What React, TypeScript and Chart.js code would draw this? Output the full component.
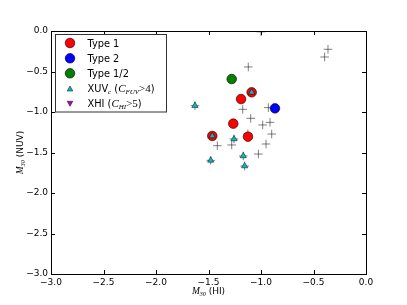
import React, { useEffect, useRef } from "react";
import { Chart, registerables } from "chart.js";

Chart.register(...registerables);

// ---- data (M30(HI), M30(NUV)) ----
const allGalaxiesX = [-0.362, -0.394, -1.121, -1.174, -0.93, -1.098, -0.914, -0.984, -0.898, -0.952, -1.025, -1.279, -1.416, -1.0, -1.125, -1.629, -1.257, -1.479, -1.169, -1.156, -1.464, -1.089];
const allGalaxiesY = [-0.226, -0.321, -0.444, -0.967, -0.946, -1.078, -1.128, -1.16, -1.272, -1.395, -1.519, -1.407, -1.416, -0.01, -1.27, -0.922, -1.333, -1.597, -1.543, -1.667, -1.296, -0.757];

const type1X = [-1.089, -1.19, -1.264, -1.464, -1.124];
const type1Y = [-0.757, -0.84, -1.144, -1.296, -1.305];

const type2X = [-0.867];
const type2Y = [-0.955];

const type12X = [-1.279];
const type12Y = [-0.593];

const xuvX = [-1.629, -1.089, -1.464, -1.257, -1.479, -1.169, -1.156];
const xuvY = [-0.922, -0.757, -1.296, -1.333, -1.597, -1.543, -1.667];

const xhiX: number[] = [];
const xhiY: number[] = [];

const tickValues = [-3.0, -2.5, -2.0, -1.5, -1.0, -0.5, 0.0];

const pts = (xs: number[], ys: number[]) => xs.map((x, i) => ({ x, y: ys[i] }));

type Seg = { t: string; f: string; dy?: number };

function drawRich(ctx: CanvasRenderingContext2D, x: number, y: number, segs: Seg[], align: "left" | "center" = "left") {
  let total = 0;
  for (const s of segs) {
    ctx.font = s.f;
    total += ctx.measureText(s.t).width;
  }
  let cx = align === "center" ? x - total / 2 : x;
  ctx.textBaseline = "alphabetic";
  ctx.textAlign = "left";
  for (const s of segs) {
    ctx.font = s.f;
    ctx.fillText(s.t, cx, y + (s.dy || 0));
    cx += ctx.measureText(s.t).width;
  }
}

const SANS = "'DejaVu Sans'";
const MATH = "'Liberation Serif'";

const overlayPlugin = {
  id: "overlay",
  afterDraw(chart: any) {
    const ctx: CanvasRenderingContext2D = chart.ctx;
    const { left, right, top, bottom } = chart.chartArea;
    const xs = chart.scales.x;
    const ys = chart.scales.y;
    ctx.save();
    // frame
    ctx.strokeStyle = "#000";
    ctx.lineWidth = 1;
    ctx.strokeRect(Math.round(left) + 0.5, Math.round(top) + 0.5, Math.round(right - left), Math.round(bottom - top));
    // inward ticks
    ctx.beginPath();
    for (const v of tickValues) {
      const px = Math.round(xs.getPixelForValue(v)) + 0.5;
      ctx.moveTo(px, bottom);
      ctx.lineTo(px, bottom - 4);
      ctx.moveTo(px, top);
      ctx.lineTo(px, top + 4);
      const py = Math.round(ys.getPixelForValue(v)) + 0.5;
      ctx.moveTo(left, py);
      ctx.lineTo(left + 4, py);
      ctx.moveTo(right, py);
      ctx.lineTo(right - 4, py);
    }
    ctx.stroke();

    // axis labels
    ctx.fillStyle = "#000";
    drawRich(ctx, (left + right) / 2, 294, [
      { t: "M", f: `italic 9.5px ${MATH}` },
      { t: "30", f: `italic 6px ${MATH}`, dy: 1.5 },
      { t: " (HI)", f: `9px ${SANS}` },
    ], "center");
    ctx.save();
    ctx.translate(23, (top + bottom) / 2);
    ctx.rotate(-Math.PI / 2);
    drawRich(ctx, 0, 0, [
      { t: "M", f: `italic 9.5px ${MATH}` },
      { t: "30", f: `italic 6px ${MATH}`, dy: 1.5 },
      { t: " (NUV)", f: `9px ${SANS}` },
    ], "center");
    ctx.restore();

    // legend box
    const bx = 55.5, by = 34.5, bw = 111, bh = 77.5;
    ctx.fillStyle = "#fff";
    ctx.fillRect(bx, by, bw, bh);
    ctx.strokeStyle = "#333";
    ctx.lineWidth = 1;
    ctx.strokeRect(bx, by, bw, bh);

    const mx = 70, tx = 87.5;
    const rows = [43, 58.3, 73.3, 88.8, 103.5];
    const circle = (y: number, c: string) => {
      ctx.beginPath();
      ctx.arc(mx, y, 4.8, 0, Math.PI * 2);
      ctx.fillStyle = c;
      ctx.fill();
      ctx.strokeStyle = "#000";
      ctx.lineWidth = 0.6;
      ctx.stroke();
    };
    const tri = (y: number, c: string, down: boolean) => {
      const s = 2.8;
      ctx.beginPath();
      if (!down) {
        ctx.moveTo(mx, y - s);
        ctx.lineTo(mx + s, y + s * 0.8);
        ctx.lineTo(mx - s, y + s * 0.8);
      } else {
        ctx.moveTo(mx, y + s);
        ctx.lineTo(mx + s, y - s * 0.8);
        ctx.lineTo(mx - s, y - s * 0.8);
      }
      ctx.closePath();
      ctx.fillStyle = c;
      ctx.fill();
      ctx.strokeStyle = "#000";
      ctx.lineWidth = 0.5;
      ctx.stroke();
    };
    circle(rows[0], "#ff0000");
    circle(rows[1], "#0000ff");
    circle(rows[2], "#007f00");
    tri(rows[3], "#00bfbf", false);
    tri(rows[4], "#bf00bf", true);
    ctx.fillStyle = "#000";
    const lf = `9.8px ${SANS}`;
    const base = 3.6;
    drawRich(ctx, tx, rows[0] + base, [{ t: "Type 1", f: lf }]);
    drawRich(ctx, tx, rows[1] + base, [{ t: "Type 2", f: lf }]);
    drawRich(ctx, tx, rows[2] + base, [{ t: "Type 1/2", f: lf }]);
    drawRich(ctx, tx, rows[3] + base, [
      { t: "XUV", f: lf },
      { t: "c", f: `italic 7px ${MATH}`, dy: 2 },
      { t: " (", f: lf },
      { t: "C", f: `italic 11px ${MATH}` },
      { t: "FUV", f: `italic 7px ${MATH}`, dy: 2 },
      { t: ">4", f: `11px ${MATH}` },
      { t: ")", f: lf },
    ]);
    drawRich(ctx, tx, rows[4] + base, [
      { t: "XHI (", f: lf },
      { t: "C", f: `italic 11px ${MATH}` },
      { t: "HI", f: `italic 7px ${MATH}`, dy: 2 },
      { t: ">5", f: `11px ${MATH}` },
      { t: ")", f: lf },
    ]);
    ctx.restore();
  },
};

const fmt = (v: any) => {
  const n = Number(v);
  const s = Math.abs(n).toFixed(1);
  return n < -1e-9 ? "\u2212" + s : s;
};

export default function App() {
  const ref = useRef<HTMLCanvasElement>(null);
  useEffect(() => {
    if (!ref.current) return;
    const chart = new Chart(ref.current, {
      type: "scatter",
      data: {
        datasets: [
          {
            label: "XUV",
            data: pts(xuvX, xuvY),
            pointStyle: "triangle",
            pointRadius: 3.6,
            backgroundColor: "#00bfbf",
            borderColor: "#000",
            borderWidth: 0.5,
            order: 1,
          },
          {
            label: "XHI",
            data: pts(xhiX, xhiY),
            pointStyle: "triangle",
            rotation: 180,
            pointRadius: 3.6,
            backgroundColor: "#bf00bf",
            borderColor: "#000",
            borderWidth: 0.5,
            order: 1,
          },
          {
            label: "Type 1",
            data: pts(type1X, type1Y),
            pointStyle: "circle",
            pointRadius: 4.8,
            backgroundColor: "#ff0000",
            borderColor: "#000",
            borderWidth: 0.6,
            order: 2,
          },
          {
            label: "Type 2",
            data: pts(type2X, type2Y),
            pointStyle: "circle",
            pointRadius: 4.8,
            backgroundColor: "#0000ff",
            borderColor: "#000",
            borderWidth: 0.6,
            order: 2,
          },
          {
            label: "Type 1/2",
            data: pts(type12X, type12Y),
            pointStyle: "circle",
            pointRadius: 4.8,
            backgroundColor: "#007f00",
            borderColor: "#000",
            borderWidth: 0.6,
            order: 2,
          },
          {
            label: "all",
            data: pts(allGalaxiesX, allGalaxiesY),
            pointStyle: "cross",
            pointRadius: 4.3,
            backgroundColor: "rgba(0,0,0,0)",
            borderColor: "rgba(0,0,0,0.5)",
            borderWidth: 1,
            order: 3,
            clip: 0,
          },
        ],
      },
      options: {
        animation: false,
        responsive: false,
        devicePixelRatio: 1,
        layout: { padding: { left: 0, top: 31, right: 41, bottom: 0 } },
        plugins: { legend: { display: false }, tooltip: { enabled: false } },
        scales: {
          x: {
            type: "linear",
            min: -3,
            max: 0,
            afterFit: (s: any) => { s.height = 31; },
            afterBuildTicks: (s: any) => { s.ticks = tickValues.map((v) => ({ value: v })); },
            grid: { display: false, drawTicks: false },
            border: { display: false },
            ticks: { padding: 3, color: "#000", font: { family: "DejaVu Sans", size: 9 }, callback: fmt, maxRotation: 0 },
          },
          y: {
            type: "linear",
            min: -3,
            max: 0,
            afterFit: (s: any) => { s.width = 51; },
            afterBuildTicks: (s: any) => { s.ticks = tickValues.map((v) => ({ value: v })); },
            grid: { display: false, drawTicks: false },
            border: { display: false },
            ticks: { padding: 3, color: "#000", font: { family: "DejaVu Sans", size: 9 }, callback: fmt },
          },
        },
      },
      plugins: [overlayPlugin],
    });
    return () => chart.destroy();
  }, []);
  return (
    <div style={{ position: "absolute", left: 0, top: 0, width: 407, height: 305, background: "#fff" }}>
      <canvas ref={ref} width={407} height={305} style={{ display: "block", width: 407, height: 305 }} />
    </div>
  );
}
